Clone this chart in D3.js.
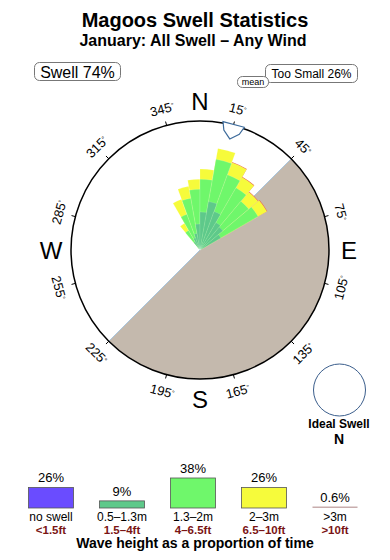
<!DOCTYPE html>
<html><head><meta charset="utf-8">
<script src="https://cdn.jsdelivr.net/npm/d3@7"></script>
<style>
body{margin:0;background:#fff}
svg{display:block}
text{font-family:"Liberation Sans",Arial,Helvetica,sans-serif;fill:#000}
</style>
</head><body>
<svg id="chart" width="390" height="560"></svg>
<script>
// ---- data ----
const dirBins = [325, 335, 345, 355, 5, 15, 25, 35, 45, 55];           // bin centre (deg)
const band05  = [1.0, 1.35, 1.75, 2.7, 3.95, 5.1, 4.25, 3.3, 3.1, 2.5]; // 0.5-1.3m
const band13  = [1.35, 2.6, 3.7, 3.6, 3.4, 4.45, 4.05, 4.15, 3.5, 4.45]; // 1.3-2m
const band2   = [0.85, 1.65, 1.25, 1.05, 1.05, 1.15, 1.35, 1.25, 1.25, 1.05]; // 2-3m
const band3   = [0, 0, 0, 0, 0, 0, 0.06, 0.06, 0.06, 0.06];             // >3m
const binWidth = 10;
const degTicks = [15, 45, 75, 105, 135, 165, 195, 225, 255, 285, 315, 345];
const compass = ["N", "E", "S", "W"];
const compassDeg = [0, 90, 180, 270];
const legendCats = ["no swell", "0.5–1.3m", "1.3–2m", "2–3m", ">3m"];
const legendFt   = ["<1.5ft", "1.5–4ft", "4–6.5ft", "6.5–10ft", ">10ft"];
const legendPct  = [26, 9, 38, 26, 0.6];
const legendLbl  = ["26%", "9%", "38%", "26%", "0.6%"];
const meanDir = 15;
const landFrom = 45, landTo = 225;
const swellPct = 74, tooSmallPct = 26;

// ---- setup ----
const svg = d3.select("#chart");
const cx = 200, cy = 250, R = 129;
const rad = d => d * Math.PI / 180;
const rScale = d3.scaleLinear().domain([0, 14]).range([0, 135]);
const colors = {no:"#6a4cff", b05:"#5ec98a", b13:"#6ff76b", b2:"#f6fb3b", b3:"#e8603a"};

// titles
svg.append("text").attr("x", 195).attr("y", 27).attr("text-anchor", "middle")
  .style("font-size", "20px").style("font-weight", "bold").text("Magoos Swell Statistics");
svg.append("text").attr("x", 193).attr("y", 46).attr("text-anchor", "middle")
  .style("font-size", "16px").style("font-weight", "bold").text("January: All Swell – Any Wind");

// boxes
function box(x, y, w, h, txt, fs, tx, ty) {
  svg.append("rect").attr("x", x).attr("y", y).attr("width", w).attr("height", h)
    .attr("rx", 5).attr("fill", "#fff").attr("stroke", "#777").attr("stroke-width", 1);
  svg.append("text").attr("x", tx).attr("y", ty).attr("text-anchor", "middle")
    .style("font-size", fs + "px").text(txt);
}
box(34.5, 62.5, 86, 18, "Swell " + swellPct + "%", 16, 77.5, 77.5);
box(265.5, 64.5, 92, 18, "Too Small " + tooSmallPct + "%", 12, 311.5, 78);
box(237.5, 76.5, 31, 11, "mean", 9, 253, 85);

const g = svg.append("g").attr("transform", `translate(${cx},${cy})`);

// land
g.append("path")
  .attr("d", d3.arc().innerRadius(0).outerRadius(R).startAngle(rad(landFrom)).endAngle(rad(landTo))())
  .attr("fill", "#c4b9ad");
g.append("line")
  .attr("x1", R * Math.sin(rad(landFrom))).attr("y1", -R * Math.cos(rad(landFrom)))
  .attr("x2", R * Math.sin(rad(landTo))).attr("y2", -R * Math.cos(rad(landTo)))
  .attr("stroke", "#a9c6de").attr("stroke-width", 1);

// rose
const arc = d3.arc().innerRadius(0);
const rose = dirBins.map((d, i) => {
  const c0 = band05[i], c1 = c0 + band13[i], c2 = c1 + band2[i], c3 = c2 + band3[i];
  return {d, c0, c1, c2, c3, b3: band3[i]};
});
const layers = [
  {key: "c3", col: colors.b3, filt: r => r.b3 > 0, stroke: "none"},
  {key: "c2", col: colors.b2, filt: () => true, stroke: "rgba(255,255,255,0.25)"},
  {key: "c1", col: colors.b13, filt: () => true, stroke: "rgba(255,255,255,0.25)"},
  {key: "c0", col: colors.b05, filt: () => true, stroke: "rgba(255,255,255,0.2)"}
];
layers.forEach(L => {
  g.append("g").selectAll("path").data(rose.filter(L.filt)).join("path")
    .attr("d", r => arc.outerRadius(rScale(r[L.key]))
      .startAngle(rad(r.d - binWidth / 2)).endAngle(rad(r.d + binWidth / 2))())
    .attr("fill", L.col)
    .attr("stroke", L.stroke).attr("stroke-width", 0.6);
});

// circle
g.append("circle").attr("r", R).attr("fill", "none").attr("stroke", "#000").attr("stroke-width", 1.5);

// ticks and degree labels
degTicks.forEach(a => {
  const s = Math.sin(rad(a)), c = Math.cos(rad(a));
  g.append("line").attr("x1", R * s).attr("y1", -R * c).attr("x2", (R + 4) * s).attr("y2", -(R + 4) * c)
    .attr("stroke", "#000").attr("stroke-width", 1);
  const rl = 146;
  const rot = (a <= 90 || a >= 270) ? a : a - 180;
  const t = g.append("text")
    .attr("transform", `translate(${rl * s},${-rl * c}) rotate(${rot})`)
    .attr("text-anchor", "middle").attr("dy", "0.36em")
    .style("font-size", "13px");
  t.append("tspan").text(a);
  t.append("tspan").attr("dy", "-0.45em").style("font-size", "7px").text("°");
});

// compass letters
compass.forEach((l, i) => {
  const a = compassDeg[i], rl = 149;
  g.append("text").attr("x", rl * Math.sin(rad(a))).attr("y", -rl * Math.cos(rad(a)))
    .attr("dy", "0.36em").attr("text-anchor", "middle")
    .style("font-size", "24px").text(l);
});

// mean arrow
g.append("path").attr("transform", `rotate(${meanDir})`)
  .attr("d", "M-11,-130 L11,-130 L8,-122 L0,-115 L-8,-122 Z")
  .attr("fill", "#fff").attr("stroke", "#3d6b9b").attr("stroke-width", 1.2);

// ideal swell
svg.append("circle").attr("cx", 339.5).attr("cy", 390).attr("r", 26)
  .attr("fill", "none").attr("stroke", "#3b5e8c").attr("stroke-width", 1);
svg.append("text").attr("x", 339).attr("y", 428).attr("text-anchor", "middle")
  .style("font-size", "12px").style("font-weight", "bold").text("Ideal Swell");
svg.append("text").attr("x", 339).attr("y", 444).attr("text-anchor", "middle")
  .style("font-size", "14px").style("font-weight", "bold").text("N");

// legend
const lx = d3.scalePoint().domain(legendCats).range([51, 335]);
const ly = d3.scaleLinear().domain([0, 38]).range([0, 30]);
const base = 508, bw = 45;
const legCols = [colors.no, colors.b05, colors.b13, colors.b2, "#c8adad"];
legendCats.forEach((c, i) => {
  const x = lx(c), h = ly(legendPct[i]);
  if (i < 4) {
    svg.append("rect").attr("x", x - bw / 2).attr("y", base - h).attr("width", bw).attr("height", h)
      .attr("fill", legCols[i]).attr("stroke", "#555").attr("stroke-width", 0.8);
  } else {
    svg.append("rect").attr("x", x - bw / 2).attr("y", base - Math.max(h, 1.5)).attr("width", bw)
      .attr("height", Math.max(h, 1.5)).attr("fill", legCols[i]);
  }
  svg.append("text").attr("x", x).attr("y", base - Math.max(h, 1.5) - 5).attr("text-anchor", "middle")
    .style("font-size", "13px").text(legendLbl[i]);
  svg.append("text").attr("x", x).attr("y", 521).attr("text-anchor", "middle")
    .style("font-size", "12px").text(c);
  svg.append("text").attr("x", x).attr("y", 533.5).attr("text-anchor", "middle")
    .style("font-size", "11.5px").style("font-weight", "bold").style("fill", "#7a1414").text(legendFt[i]);
});
svg.append("text").attr("x", 195).attr("y", 548).attr("text-anchor", "middle")
  .style("font-size", "14px").style("font-weight", "bold").text("Wave height as a proportion of time");
</script>
</body></html>
